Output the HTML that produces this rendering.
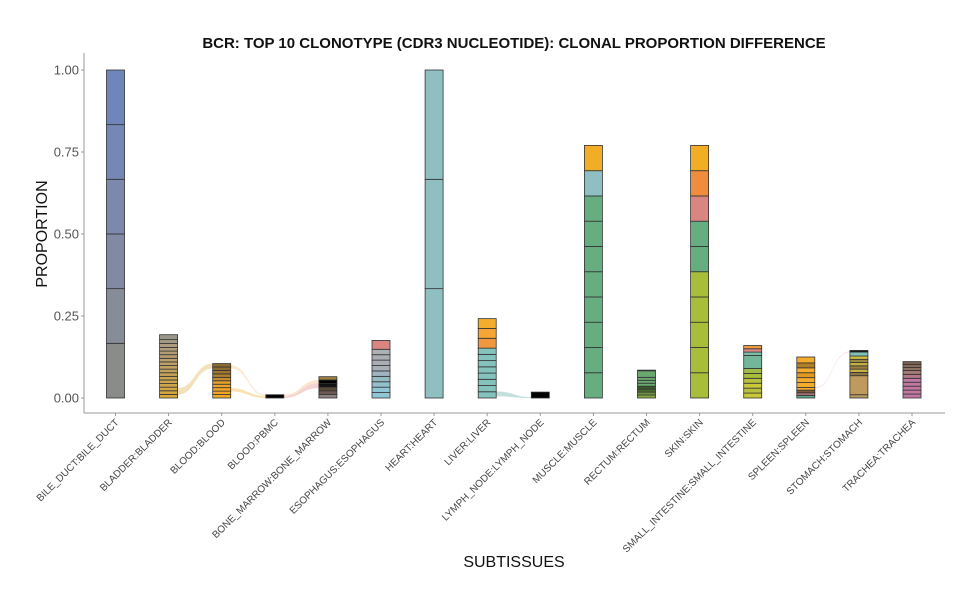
<!DOCTYPE html>
<html><head><meta charset="utf-8"><style>
body{margin:0;background:#fff;}
svg{display:block;font-family:"Liberation Sans",sans-serif;}
</style></head><body>
<svg id="chart" width="980" height="603"></svg>
<script>
const categories=["BILE_DUCT:BILE_DUCT","BLADDER:BLADDER","BLOOD:BLOOD","BLOOD:PBMC","BONE_MARROW:BONE_MARROW","ESOPHAGUS:ESOPHAGUS","HEART:HEART","LIVER:LIVER","LYMPH_NODE:LYMPH_NODE","MUSCLE:MUSCLE","RECTUM:RECTUM","SKIN:SKIN","SMALL_INTESTINE:SMALL_INTESTINE","SPLEEN:SPLEEN","STOMACH:STOMACH","TRACHEA:TRACHEA"];
// segment proportions, bottom to top
const segBileDuct=[0.1667,0.1667,0.1667,0.1667,0.1666,0.1666];
const segBladder=[0.011,0.011,0.011,0.011,0.011,0.011,0.011,0.011,0.011,0.011,0.011,0.011,0.011,0.011,0.012,0.012,0.015];
const segBlood=[0.0105,0.0105,0.0105,0.0105,0.0105,0.0105,0.0105,0.0105,0.0105,0.0105];
const segPbmc=[0.01];
const segBoneMarrow=[0.011,0.011,0.011,0.011,0.011,0.01];
const segEsophagus=[0.0165,0.0165,0.0165,0.0165,0.0165,0.0165,0.0165,0.0165,0.0165,0.027];
const segHeart=[0.3334,0.3333,0.3333];
const segLiver=[0.019,0.019,0.019,0.019,0.019,0.019,0.019,0.019,0.03,0.03,0.03];
const segLymph=[0.018];
const segMuscle=[0.077,0.077,0.077,0.077,0.077,0.077,0.077,0.077,0.077,0.077];
const segRectum=[0.009,0.009,0.009,0.009,0.009,0.009,0.009,0.02,0.002];
const segSkin=[0.077,0.077,0.077,0.077,0.077,0.077,0.077,0.077,0.077,0.077];
const segSmallInt=[0.015,0.015,0.015,0.015,0.015,0.015,0.04,0.01,0.01,0.01];
const segSpleen=[0.008,0.008,0.008,0.008,0.015,0.015,0.015,0.015,0.015,0.018];
const segStomach=[0.01,0.058,0.01,0.01,0.01,0.01,0.01,0.01,0.012,0.005];
const segTrachea=[0.012,0.012,0.012,0.012,0.012,0.012,0.012,0.009,0.009,0.009];
const segments=[segBileDuct,segBladder,segBlood,segPbmc,segBoneMarrow,segEsophagus,segHeart,segLiver,segLymph,segMuscle,segRectum,segSkin,segSmallInt,segSpleen,segStomach,segTrachea];
const colors=[
 ["#8a8c89","#878c99","#8189a3","#7c88ac","#7587b4","#6e86bc"],
 ["#d9a93a","#d5a83f","#d2a744","#cfa649","#cca54e","#c9a453","#c6a358","#c3a25d","#c0a162","#bda067","#ba9f6c","#b79e71","#b49d76","#b19c7b","#ae9b80","#a29a85","#989688"],
 ["#f3a623","#f3a623","#f3a623","#eda428","#e6a22a","#c48c2e","#b08030","#a07530","#8f6b2e","#8a6a30"],
 ["#000000"],
 ["#8a8080","#6e5a55","#5a4a3a","#111111","#000000","#a08040"],
 ["#8fc6d6","#8fc6d6","#93c0cc","#96bac4","#a0b4c0","#a7b0b8","#a9adb4","#aaaeb4","#aeb0b4","#da8680"],
 ["#90bfc2","#90bfc2","#90bfc2"],
 ["#84c2bd","#84c2bd","#84c2bd","#84c2bd","#84c2bd","#84c2bd","#84c2bd","#84c2bd","#f09840","#f4a535","#f4ac2c"],
 ["#000000"],
 ["#66ad80","#66ad80","#66ad80","#66ad80","#66ad80","#66ad80","#66ad80","#66ad80","#8fbfc3","#f0ad25"],
 ["#8aaa40","#6a9040","#4a6a30","#3a5a30","#6aa870","#6aa870","#6aa870","#6aa870","#222222"],
 ["#a8bd3a","#a8bd3a","#a8bd3a","#a8bd3a","#a8bd3a","#66ad80","#66ad80","#da8680","#ef8c3e","#f2ad25"],
 ["#c8c838","#b8c040","#c8c838","#b8c040","#a8bd3a","#a0bb48","#72b79a","#7cbfa8","#dc8b8b","#f09840"],
 ["#5aaa90","#b07070","#7a5a3a","#f4ac2c","#f4ac2c","#f4ac2c","#e09a20","#f4ac2c","#b08028","#f4ac2c"],
 ["#b89a60","#bf9a5e","#8a7540","#c8b040","#9a8040","#c0b040","#9a8a40","#d0c040","#7ec0b6","#111111"],
 ["#c078a0","#c078a0","#c078a0","#c078a0","#c078a0","#b07888","#a07a70","#907060","#8a6a58","#7a6050"]
];
const yTicks=[0,0.25,0.5,0.75,1];
const yTickLabels=["0.00","0.25","0.50","0.75","1.00"];

const NS="http://www.w3.org/2000/svg";
const svg=document.getElementById("chart");
const L=84,R=945,T=53,B=413;
const y0=398,y1=70;
const x0=115.5,dx=53.1,bw=18;
function xScale(i){return x0+i*dx;}
function yScale(v){return y0-(y0-y1)*v;}
function mk(tag,attrs,parent){const e=document.createElementNS(NS,tag);for(const k in attrs)e.setAttribute(k,attrs[k]);(parent||svg).appendChild(e);return e;}

const flowG=mk("g",{});


function ribbon(i,a0,a1,j,b0,b1,col,op){
  const xa=xScale(i)+bw/2,xb=xScale(j)-bw/2,xm=(xa+xb)/2;
  const d=`M${xa},${yScale(a1)} C${xm},${yScale(a1)} ${xm},${yScale(b1)} ${xb},${yScale(b1)} L${xb},${yScale(b0)} C${xm},${yScale(b0)} ${xm},${yScale(a0)} ${xa},${yScale(a0)} Z`;
  const p=mk("path",{d:d,fill:col,"fill-opacity":op},flowG);
  
  
}
ribbon(1,0.01,0.03,2,0.09,0.105,"#d9a93a",0.35);
ribbon(2,0.09,0.1,3,0.006,0.01,"#f0c070",0.35);
ribbon(2,0.02,0.03,3,0.0,0.006,"#f3a623",0.35);
ribbon(3,0.005,0.01,4,0.045,0.055,"#f0c080",0.4);
ribbon(3,0.0,0.005,4,0.03,0.045,"#e89090",0.4);
ribbon(7,0.005,0.02,8,0.0,0.003,"#84c2bd",0.5);
ribbon(13,0.03,0.032,14,0.14,0.142,"#e89090",0.4);

categories.forEach((c,i)=>{
  const g=mk("g",{});
  
  
  let acc=0;
  segments[i].forEach((v,k)=>{
    const r=mk("rect",{x:xScale(i)-bw/2,y:yScale(acc+v),width:bw,height:yScale(acc)-yScale(acc+v),fill:colors[i][k%colors[i].length],stroke:"#333","stroke-width":0.8},g);
    
    
    acc+=v;
  });
});

const ax=mk("g",{});


mk("line",{x1:L,y1:T,x2:L,y2:B,stroke:"#999","stroke-width":1},ax);
mk("line",{x1:L,y1:B,x2:R,y2:B,stroke:"#999","stroke-width":1},ax);
yTicks.forEach((t,k)=>{
  mk("line",{x1:L-3,x2:L,y1:yScale(t),y2:yScale(t),stroke:"#999"},ax);
  const tx=mk("text",{x:L-5,y:yScale(t)+4.5,"text-anchor":"end","font-size":13,fill:"#555"},ax);
  tx.textContent=yTickLabels[k];
  
  
});
categories.forEach((c,i)=>{
  const x=xScale(i);
  mk("line",{x1:x,x2:x,y1:B,y2:B+3,stroke:"#999"},ax);
  const tx=mk("text",{x:x+4,y:B+10,"text-anchor":"end","font-size":10,fill:"#444",transform:`rotate(-45 ${x+4} ${B+10})`},ax);
  tx.textContent=c;
  
  
});
const title=mk("text",{x:514,y:48,"text-anchor":"middle","font-size":15,"font-weight":"bold",fill:"#111"});
title.textContent="BCR: TOP 10 CLONOTYPE (CDR3 NUCLEOTIDE): CLONAL PROPORTION DIFFERENCE";


const yt=mk("text",{x:47,y:234,"text-anchor":"middle","font-size":16,fill:"#111",transform:"rotate(-90 47 234)"});
yt.textContent="PROPORTION";


const xt=mk("text",{x:514,y:567,"text-anchor":"middle","font-size":16,fill:"#111"});
xt.textContent="SUBTISSUES";


</script>
</body></html>
